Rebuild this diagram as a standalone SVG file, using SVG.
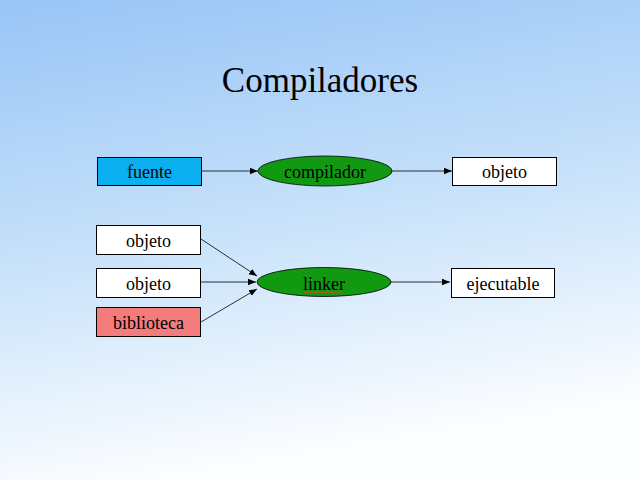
<svg xmlns="http://www.w3.org/2000/svg" width="640" height="480" viewBox="0 0 640 480">
<defs>
<linearGradient id="bg" x1="0" y1="0" x2="0.22" y2="1">
<stop offset="0" stop-color="#98c4f6"/>
<stop offset="0.5" stop-color="#c4e0fa"/>
<stop offset="1" stop-color="#fbfdff"/>
</linearGradient>
<marker id="ah" viewBox="0 0 10 10" refX="10" refY="5" markerWidth="8" markerHeight="8" markerUnits="userSpaceOnUse" orient="auto">
<path d="M0,1 L10,5 L0,9 z" fill="#000"/>
</marker>
<style>
.box{stroke:#000;stroke-width:1}
.ell{fill:#129912;stroke:#000;stroke-width:0.8}
.lbl{font-family:"Liberation Serif","Times New Roman",serif;font-size:18px;text-anchor:middle;fill:#000}
.edge{stroke:#000;stroke-width:0.8;fill:none;marker-end:url(#ah)}
</style>
</defs>
<rect x="0" y="0" width="640" height="480" fill="url(#bg)"/>
<text x="320" y="92" font-family="'Liberation Serif','Times New Roman',serif" font-size="35" text-anchor="middle" fill="#000">Compiladores</text>
<g id="connectors">
<line class="edge" x1="201" y1="171" x2="258" y2="171"/>
<line class="edge" x1="392" y1="171" x2="452" y2="171"/>
<line class="edge" x1="201" y1="239" x2="257" y2="276"/>
<line class="edge" x1="201" y1="282" x2="256" y2="282"/>
<line class="edge" x1="201" y1="322" x2="257" y2="289"/>
<line class="edge" x1="391" y1="282" x2="450" y2="282"/>
</g>
<g id="fuente"><rect class="box" x="97.5" y="157.5" width="104" height="28" fill="#0cb0f0"/><text class="lbl" x="149.5" y="177.5">fuente</text></g>
<g id="compilador"><ellipse class="ell" cx="325" cy="171" rx="67" ry="15"/><text class="lbl" x="325" y="177.5">compilador</text></g>
<g id="objeto_out"><rect class="box" x="452.5" y="157.5" width="104" height="28" fill="#fff"/><text class="lbl" x="504.5" y="177.5">objeto</text></g>
<g id="objeto1"><rect class="box" x="96.5" y="225.5" width="104" height="29" fill="#fff"/><text class="lbl" x="148.5" y="246.5">objeto</text></g>
<g id="objeto2"><rect class="box" x="96.5" y="268.5" width="104" height="29" fill="#fff"/><text class="lbl" x="148.5" y="289.5">objeto</text></g>
<g id="biblioteca"><rect class="box" x="96.5" y="307.5" width="104" height="29" fill="#f47c7c"/><text class="lbl" x="148.5" y="328.5">biblioteca</text></g>
<g id="linker"><ellipse class="ell" cx="324" cy="282" rx="67" ry="14.5"/><text class="lbl" x="324" y="289.5">linker</text>
<path d="M304,291.5 l2,1.5 l2,-1.5 l2,1.5 l2,-1.5 l2,1.5 l2,-1.5 l2,1.5 l2,-1.5 l2,1.5 l2,-1.5 l2,1.5 l2,-1.5 l2,1.5 l2,-1.5 l2,1.5 l2,-1.5 l2,1.5 l2,-1.5 l2,1.5" fill="none" stroke="#e04020" stroke-width="1"/></g>
<g id="ejecutable"><rect class="box" x="451.5" y="268.5" width="103" height="29" fill="#fff"/><text class="lbl" x="503" y="289.5">ejecutable</text></g>
</svg>
